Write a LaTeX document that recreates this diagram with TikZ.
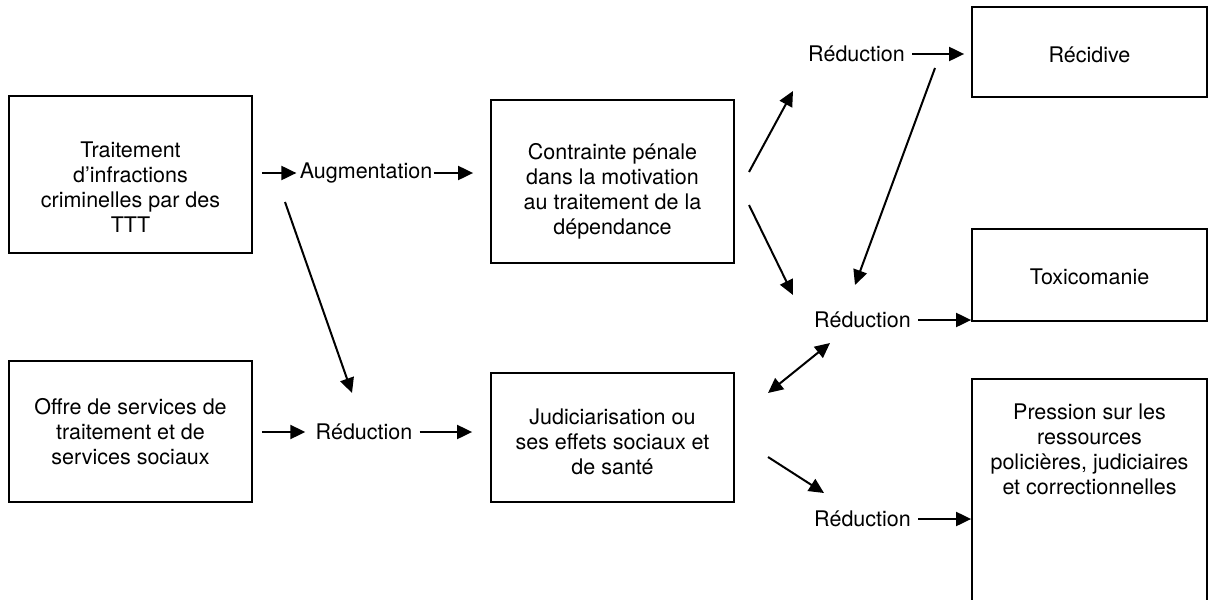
\documentclass[tikz,border=0pt]{standalone}
\usepackage{fontspec}
\setmainfont{TeX Gyre Heros}
\usetikzlibrary{arrows.meta}
\begin{document}
\begin{tikzpicture}[x=0.5pt,y=-0.5pt,
  every node/.style={font=\fontsize{10.75}{12.5}\selectfont},
  boxn/.style={draw, line width=0.9pt, inner sep=0pt},
  txt/.style={align=center, inner sep=0pt},
  lbl/.style={inner sep=0pt},
  arr/.style={line width=1pt, -{Triangle[length=7.5pt,width=7pt]}},
  darr/.style={line width=1pt, {Triangle[length=7.5pt,width=7pt]}-{Triangle[length=7.5pt,width=7pt]}}]
\useasboundingbox (0,0) rectangle (1208,599);
% boxes
\node[boxn, minimum width=121.5pt, minimum height=78.5pt] (b1) at (130.5,174.5) {};
\node[txt] (t1) at (130.5,187) {Traitement\\d’infractions\\criminelles par des\\TTT};
\node[boxn, minimum width=121.5pt, minimum height=70.5pt] (b2) at (130.5,431.5) {};
\node[txt] (t2) at (130.5,432) {Offre de services de\\traitement et de\\services sociaux};
\node[boxn, minimum width=121.5pt, minimum height=81.5pt] (b3) at (612.5,181.5) {};
\node[txt] (t3) at (612.5,191) {Contrainte pénale\\dans la motivation\\au traitement de la\\dépendance};
\node[boxn, minimum width=121.5pt, minimum height=64.5pt] (b4) at (612.5,437.5) {};
\node[txt] (t4) at (612.5,442) {Judiciarisation ou\\ses effets sociaux et\\de santé};
\node[boxn, minimum width=117.5pt, minimum height=45pt] (b5) at (1089.5,52) {};
\node[txt] (t5) at (1089.5,55) {Récidive};
\node[boxn, minimum width=117.5pt, minimum height=46pt] (b6) at (1089.5,275) {};
\node[txt] (t6) at (1089.5,277) {Toxicomanie};
\node[boxn, minimum width=117.5pt, minimum height=130.5pt] (b7) at (1089.5,509.5) {};
\node[txt] (t7) at (1089.5,449) {Pression sur les\\ressources\\policières, judiciaires\\et correctionnelles};
% labels
\node[lbl] (aug) at (366,173) {Augmentation};
\node[lbl] (rl) at (364,432) {Réduction};
\node[lbl] (r1) at (856.5,54) {Réduction};
\node[lbl] (r2) at (862.5,320) {Réduction};
\node[lbl] (r3) at (862.5,519) {Réduction};
% horizontal arrows
\draw[arr, shorten <=4.5pt, shorten >=1.5pt] (b1.east |- aug) -- (aug.west);
\draw[arr, shorten <=0.5pt, shorten >=8.5pt] (aug.east) -- (b3.west |- aug);
\draw[arr, shorten <=4.5pt, shorten >=5pt] (b2.east |- rl) -- (rl.west);
\draw[arr, shorten <=3.5pt, shorten >=9pt] (rl.east) -- (b4.west |- rl);
\draw[arr, shorten <=3.5pt, shorten >=3.5pt] (r1.east) -- (b5.west |- r1);
\draw[arr, shorten <=3.5pt] (r2.east) -- (b6.west |- r2);
\draw[arr, shorten <=3.5pt] (r3.east) -- (b7.west |- r3);
% diagonal arrows
\coordinate (d1s) at (285,202); \coordinate (d1e) at (352,393);
\coordinate (d2s) at (749,172); \coordinate (d2e) at (793,91);
\coordinate (d3s) at (749,205); \coordinate (d3e) at (793,295);
\coordinate (d4s) at (935,68);  \coordinate (d4e) at (855,285);
\coordinate (d5s) at (768,393); \coordinate (d5e) at (830,343);
\coordinate (d6s) at (768,457); \coordinate (d6e) at (824,493);
\draw[arr] (d1s) -- (d1e);
\draw[arr] (d2s) -- (d2e);
\draw[arr] (d3s) -- (d3e);
\draw[arr] (d4s) -- (d4e);
\draw[darr] (d5s) -- (d5e);
\draw[arr] (d6s) -- (d6e);
\end{tikzpicture}
\end{document}
